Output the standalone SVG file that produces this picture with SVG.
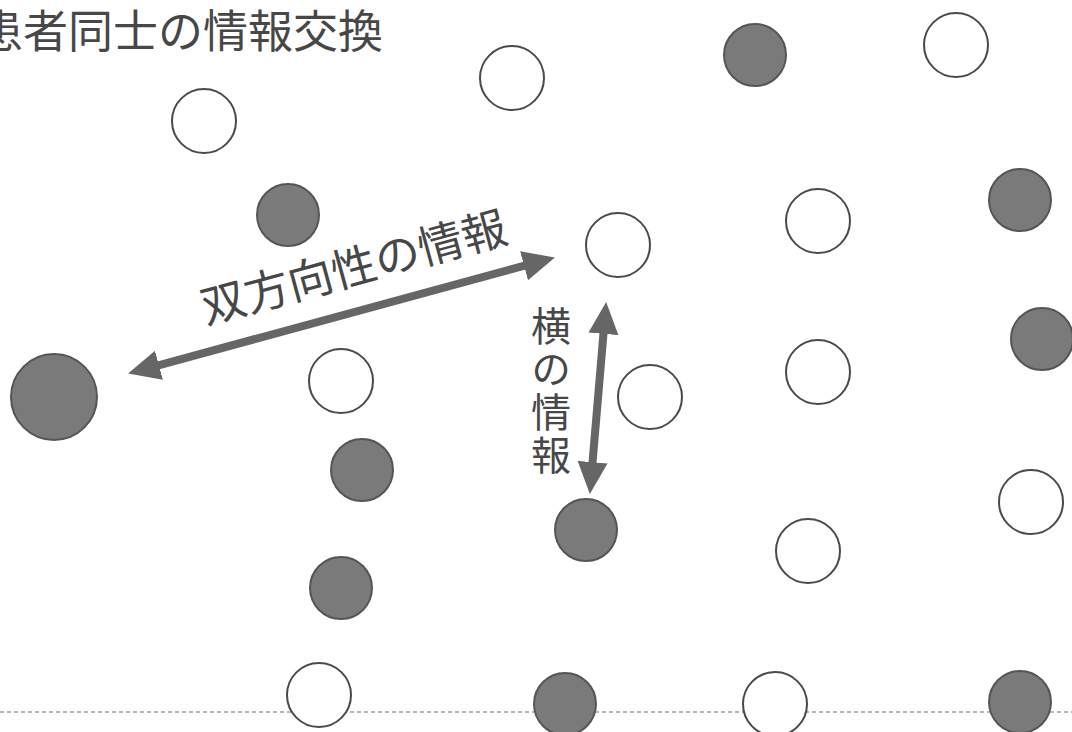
<svg xmlns="http://www.w3.org/2000/svg" width="1072" height="732" viewBox="0 0 1072 732">
<style>
.w{fill:#fff;stroke:#4a4a4a;stroke-width:2}
.d{fill:#7a7a7a;stroke:#555;stroke-width:2}
.t{font-family:"Noto Sans CJK JP","Noto Sans CJK SC",sans-serif;fill:#474747}
.a{stroke:#666;stroke-width:8;fill:none}
</style>
<defs>
<marker id="ah" markerUnits="userSpaceOnUse" markerWidth="32" markerHeight="32" refX="10" refY="16" orient="auto-start-reverse" viewBox="0 0 32 32">
<path d="M0,1 L32,16 L0,31 Z" fill="#666"/>
</marker>
</defs>
<rect width="1072" height="732" fill="#fff"/>
<text class="t" x="-22" y="48" font-size="45">患者同士の情報交換</text>
<line x1="0" y1="712" x2="1072" y2="712" stroke="#a0a0a0" stroke-width="1.5" stroke-dasharray="4 3"/>
<g id="nodes">
<g id="n1"><circle class="w" cx="204" cy="121" r="32"/></g>
<g id="n2"><circle class="w" cx="512" cy="78" r="32"/></g>
<g id="n3"><circle class="d" cx="755" cy="55" r="31"/></g>
<g id="n4"><circle class="w" cx="956" cy="45" r="32"/></g>
<g id="n5"><circle class="d" cx="288" cy="215" r="31"/></g>
<g id="n6"><circle class="w" cx="618" cy="245" r="32"/></g>
<g id="n7"><circle class="w" cx="818" cy="221" r="32"/></g>
<g id="n8"><circle class="d" cx="1020" cy="200" r="31"/></g>
<g id="n9"><circle class="d" cx="54" cy="397" r="43"/></g>
<g id="n10"><circle class="w" cx="341" cy="381" r="32"/></g>
<g id="n11"><circle class="w" cx="650" cy="397" r="32"/></g>
<g id="n12"><circle class="w" cx="818" cy="372" r="32"/></g>
<g id="n13"><circle class="d" cx="1042" cy="339" r="31"/></g>
<g id="n14"><circle class="d" cx="362" cy="470" r="31"/></g>
<g id="n15"><circle class="d" cx="586" cy="530" r="31"/></g>
<g id="n16"><circle class="w" cx="1031" cy="502" r="32"/></g>
<g id="n17"><circle class="w" cx="808" cy="551" r="32"/></g>
<g id="n18"><circle class="d" cx="341" cy="588" r="31"/></g>
<g id="n19"><circle class="w" cx="319" cy="695" r="32"/></g>
<g id="n20"><circle class="d" cx="565" cy="704" r="31"/></g>
<g id="n21"><circle class="w" cx="775" cy="704" r="32"/></g>
<g id="n22"><circle class="d" cx="1020" cy="702" r="31"/></g>
</g>
<g id="connectors">
<line class="a" x1="149.3" y1="367.8" x2="533.7" y2="263.2" marker-start="url(#ah)" marker-end="url(#ah)"/>
<line class="a" x1="604.3" y1="323.9" x2="591.7" y2="472.1" marker-start="url(#ah)" marker-end="url(#ah)"/>
</g>
<text class="t" x="358" y="283" font-size="45" text-anchor="middle" transform="rotate(-15.2 358 283)">双方向性の情報</text>
<text class="t" x="551" y="306" font-size="40" writing-mode="vertical-rl" letter-spacing="3">横の情報</text>
</svg>
